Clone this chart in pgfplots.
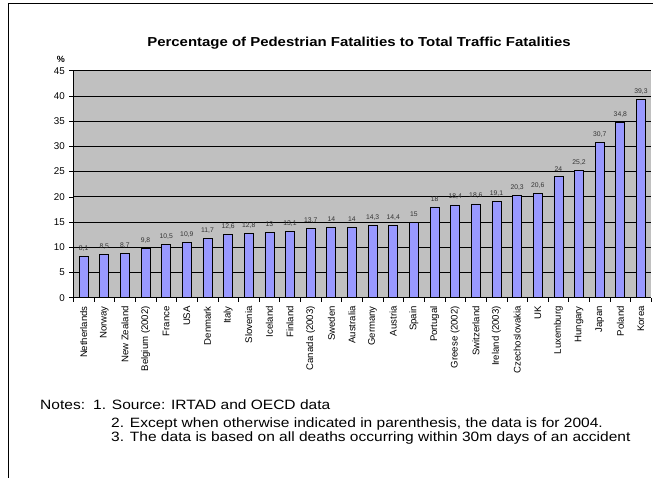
\documentclass[border=0pt]{standalone}
\usepackage{fontspec}
\setmainfont{Liberation Sans}
\usepackage{pgfplots}
\usepackage{pgfplotstable}
\pgfplotsset{compat=1.18}
\definecolor{barblue}{HTML}{9999FF}
\definecolor{plotgray}{HTML}{C0C0C0}
\pgfplotstableread{
idx val
0 8.1
1 8.5
2 8.7
3 9.8
4 10.5
5 10.9
6 11.7
7 12.6
8 12.8
9 13
10 13.1
11 13.7
12 14
13 14
14 14.3
15 14.4
16 15
17 18
18 18.4
19 18.6
20 19.1
21 20.3
22 20.6
23 24
24 25.2
25 30.7
26 34.8
27 39.3
}\datatable
\begin{document}
\begin{tikzpicture}[x=1pt,y=1pt]
\path[use as bounding box] (0,0) rectangle (653,478);
\draw[black, line width=1pt] (8,0) -- (8,474) -- (653,474);
\begin{axis}[
  at={(73.3pt,180.3pt)}, anchor=south west,
  scale only axis, width=578pt, height=227pt,
  xmin=-0.5, xmax=27.5, ymin=0, ymax=45,
  axis background/.style={fill=plotgray},
  axis x line=bottom, axis y line=left,
  axis line style={-, black, line width=0.9pt},
  ytick={0,5,...,45},
  xtick={0,...,27},
  minor xtick={-0.5,0.5,...,27.5},
  xticklabels={Netherlands,Norway,New Zealand,Belgium (2002),France,USA,Denmark,Italy,Slovenia,Iceland,Finland,Canada (2003),Sweden,Australia,Germany,Austria,Spain,Portugal,Greese (2002),Switzerland,Ireland (2003),Czechoslovakia,UK,Luxemburg,Hungary,Japan,Poland,Korea},
  tick align=outside,
  major tick length=4pt, minor tick length=4pt,
  major x tick style={draw=none},
  minor x tick style={black, line width=0.6pt},
  y tick style={black, line width=0.6pt},
  ymajorgrids,
  major y grid style={black, line width=0.8pt},
  /pgf/number format/assume math mode=true,
  x tick label style={rotate=90, anchor=east, font=\fontsize{9.6}{10}\selectfont, yshift=0pt, xshift=-1pt},
  y tick label style={font=\fontsize{9.8}{10}\selectfont, xshift=-1pt},
  ybar, bar width=9pt,
  nodes near coords={\pgfmathprintnumber[use comma,assume math mode=true]{\pgfplotspointmeta}},
  every node near coord/.append style={font=\fontsize{6.8}{7}\selectfont, text=black!80, yshift=1.5pt},
  clip=false,
]
\addplot[fill=barblue, draw=black, line width=0.7pt] table[x=idx,y=val] {\datatable};
\end{axis}
\node[font=\bfseries\fontsize{13}{15}\selectfont, xscale=1.15] at (359,435) {Percentage of Pedestrian Fatalities to Total Traffic Fatalities};
\node[font=\bfseries\fontsize{9}{10}\selectfont] at (61,419) {\%};
\begin{scope}[every node/.style={anchor=base west, inner sep=0pt, font=\fontsize{13.5}{15}\selectfont, xscale=1.15}]
\node at (40,68) {Notes:};
\node at (93,68) {1. Source: IRTAD and OECD data};
\node at (111,50) {2. Except when otherwise indicated in parenthesis, the data is for 2004.};
\node at (111,36) {3. The data is based on all deaths occurring within 30m days of an accident};
\end{scope}
\end{tikzpicture}
\end{document}
